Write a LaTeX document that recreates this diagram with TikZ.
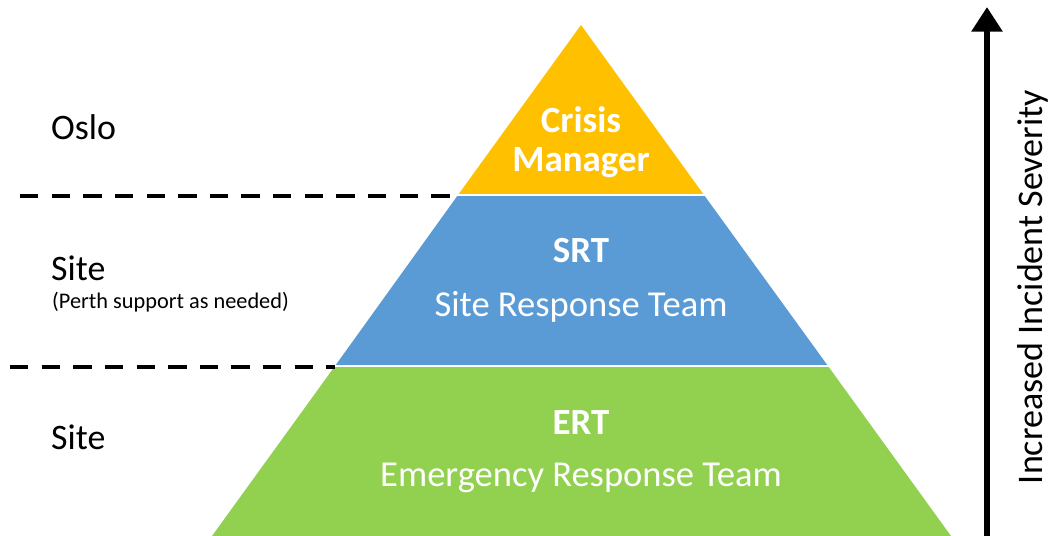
\documentclass[tikz,border=0pt]{standalone}
\usepackage{fontspec}
\setmainfont{Carlito}
\usetikzlibrary{arrows.meta}

\definecolor{cmYellow}{HTML}{FFC000}
\definecolor{srtBlue}{HTML}{5B9BD5}
\definecolor{ertGreen}{HTML}{92D050}

\tikzstyle{tierMain} = [text = white,
                        font = \fontsize{21}{24}\selectfont\bfseries,
                        align = center
                        ]
\tikzstyle{tierMinor} = [text = white,
                         font = \fontsize{20.8}{24}\selectfont
                         ]
\tikzstyle{sideMain} = [anchor = west,
                        font = \fontsize{20.4}{24}\selectfont
                        ]
\tikzstyle{sideMinor} = [anchor = west,
                         font = \fontsize{12.7}{14}\selectfont
                         ]
\tikzstyle{levelLine} = [line width = 2.3pt,
                         dash pattern = on 10.5pt off 7.5pt
                         ]

\begin{document}
\begin{tikzpicture}[x = 0.02cm, y = -0.02cm]

    \useasboundingbox (0, 0) rectangle (1052, 536);

    %%% Pyramid
    % Crisis Manager %
    \fill[cmYellow] (581, 25) -- (704, 195) -- (458, 195) -- cycle;
    % SRT %
    \fill[srtBlue] (458, 195) -- (704, 195) -- (828, 366) -- (335, 366) -- cycle;
    % ERT %
    \fill[ertGreen] (335, 366) -- (828, 366) -- (951, 536) -- (212, 536) -- cycle;

        % Separators
        \draw[white, line width = 1.2pt] (457, 195) -- (705, 195);
        \draw[white, line width = 1.2pt] (334, 366) -- (829, 366);

    %%% Tier labels
    \node (CM) at (581, 142) [tierMain]{Crisis\\[-2pt]Manager};

    \node (SRT) at (581, 251) [tierMain]{SRT};
    \node (SRTm) at (581, 307) [tierMinor]{Site Response Team};

    \node (ERT) at (581, 423) [tierMain]{ERT};
    \node (ERTm) at (581, 478) [tierMinor]{Emergency Response Team};

    %%% Locations
    \node (Oslo) at (45, 127) [sideMain]{Oslo};
    \node (Site1) at (45, 268) [sideMain]{Site};
    \node (Perth) at (46, 302) [sideMinor]{(Perth support as needed)};
    \node (Site2) at (45, 437) [sideMain]{Site};

        % Level lines
        \coordinate (L1a) at (20, 196);
        \coordinate (L1b) at (458, 196);
        \draw[levelLine] (L1a) -- (L1b);
        \coordinate (L2a) at (10, 367);
        \coordinate (L2b) at (335, 367);
        \draw[levelLine] (L2a) -- (L2b);

    %%% Severity
    \coordinate (SevBot) at (987, 536);
    \coordinate (SevTop) at (987, 7);
    \draw[line width = 3.4pt, -{Triangle[width = 17pt, length = 14pt]}] (SevBot) -- (SevTop);
    \node (Sev) at (1033, 287) [rotate = 90, font = \fontsize{20.5}{24}\selectfont]{Increased Incident Severity};

\end{tikzpicture}
\end{document}
